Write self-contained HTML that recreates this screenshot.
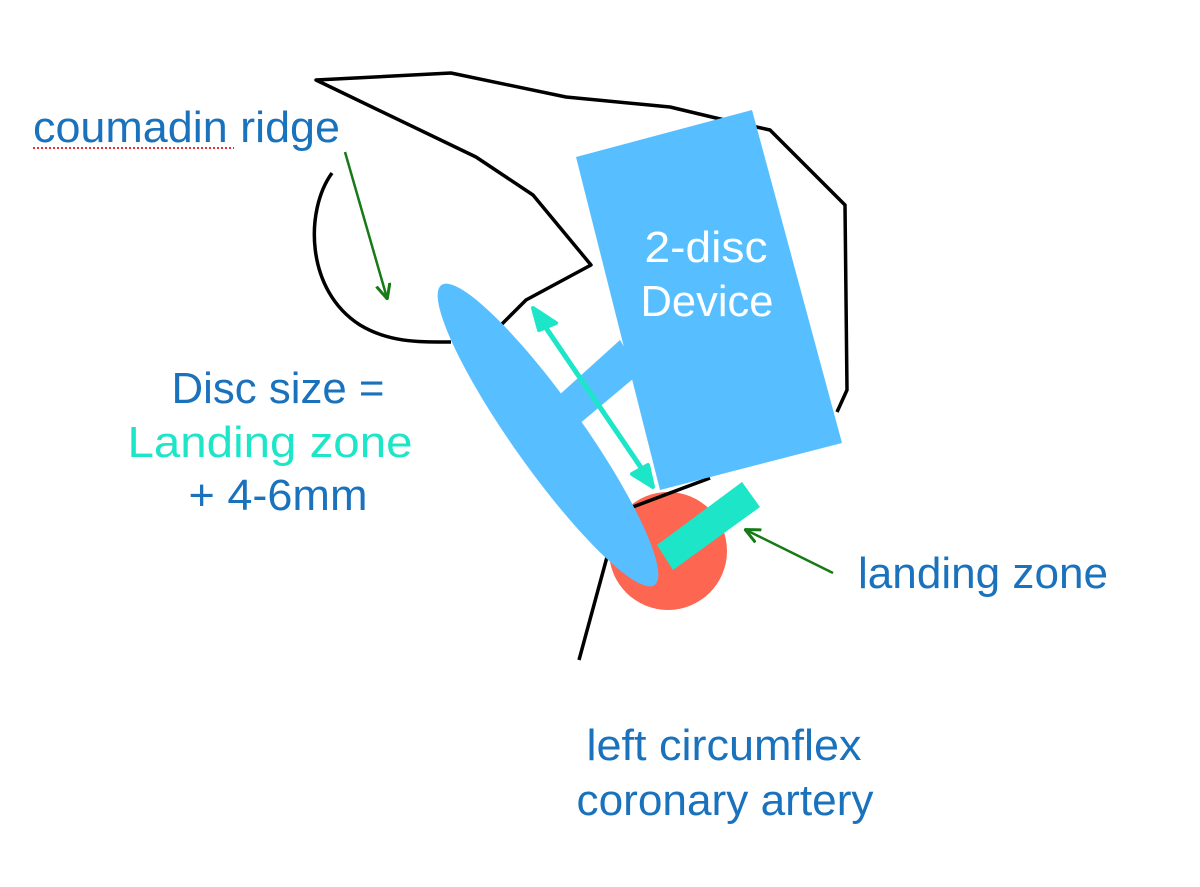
<!DOCTYPE html>
<html><head><meta charset="utf-8"><style>
html,body{margin:0;padding:0;background:#fff;}
svg{display:block;}
text{font-family:"Liberation Sans",Arial,sans-serif;font-size:44px;}
</style></head><body>
<svg width="1200" height="887" viewBox="0 0 1200 887" xmlns="http://www.w3.org/2000/svg">
<defs>
<marker id="ga" markerWidth="16" markerHeight="16" refX="14" refY="8" orient="auto" markerUnits="userSpaceOnUse" viewBox="0 0 16 16">
<path d="M0,1 L15,8 L0,15" fill="none" stroke="#167a16" stroke-width="3"/></marker>
</defs>
<polyline points="499,327 526,300 591,265 533,195 476,157 316,80 451,73 566,97 670,107 716,118 770,130 845,205 847,390 837,412" fill="none" stroke="#000" stroke-width="3.5" stroke-linejoin="round"/>
<path d="M332,173 C305,210 305,290 360,325 C390,343 420,342 451,342" fill="none" stroke="#000" stroke-width="3.5"/>
<circle cx="668" cy="551" r="59" fill="#fd6650"/>
<line x1="607" y1="557" x2="579" y2="660" stroke="#000" stroke-width="3.5"/>
<line x1="630" y1="508" x2="710" y2="478" stroke="#000" stroke-width="3.5"/>
<polygon points="576,157 752,110 842,443 660,490" fill="#57bfff"/>
<polygon points="557,397 620,340 640,373 578,425" fill="#57bfff"/>
<ellipse cx="548" cy="435" rx="184" ry="35" transform="rotate(54.6 548 435)" fill="#57bfff"/>
<polygon points="742,482 760,507 673,570 657,545" fill="#1de5c8"/>
<line x1="542" y1="322" x2="644" y2="472" stroke="#1de5c8" stroke-width="5"/>
<polygon points="533,308 556,323 539,330" fill="#1de5c8" stroke="#1de5c8" stroke-width="4" stroke-linejoin="round"/>
<polygon points="653,487 648,465 632,474" fill="#1de5c8" stroke="#1de5c8" stroke-width="4" stroke-linejoin="round"/>
<line x1="345" y1="152" x2="387" y2="298" stroke="#167a16" stroke-width="2.5" marker-end="url(#ga)"/>
<line x1="833" y1="573" x2="746" y2="530" stroke="#167a16" stroke-width="2.5" marker-end="url(#ga)"/>
<text x="33" y="142" fill="#1a72bd" textLength="307" lengthAdjust="spacingAndGlyphs">coumadin ridge</text>
<line x1="33" y1="148" x2="234" y2="148" stroke="#e53030" stroke-width="2" stroke-dasharray="2,2"/>
<text x="278" y="403" fill="#1a72bd" text-anchor="middle" textLength="213" lengthAdjust="spacingAndGlyphs">Disc size =</text>
<text x="270" y="457" fill="#1de5c8" text-anchor="middle" textLength="285" lengthAdjust="spacingAndGlyphs">Landing zone</text>
<text x="278" y="510" fill="#1a72bd" text-anchor="middle" textLength="179" lengthAdjust="spacingAndGlyphs">+ 4-6mm</text>
<text x="706" y="262" fill="#fff" text-anchor="middle" textLength="123" lengthAdjust="spacingAndGlyphs">2-disc</text>
<text x="707" y="316" fill="#fff" text-anchor="middle" textLength="133" lengthAdjust="spacingAndGlyphs">Device</text>
<text x="858" y="588" fill="#1a72bd" textLength="250" lengthAdjust="spacingAndGlyphs">landing zone</text>
<text x="724" y="760" fill="#1a72bd" text-anchor="middle" textLength="275" lengthAdjust="spacingAndGlyphs">left circumflex</text>
<text x="725" y="815" fill="#1a72bd" text-anchor="middle" textLength="297" lengthAdjust="spacingAndGlyphs">coronary artery</text>
</svg>
</body></html>
